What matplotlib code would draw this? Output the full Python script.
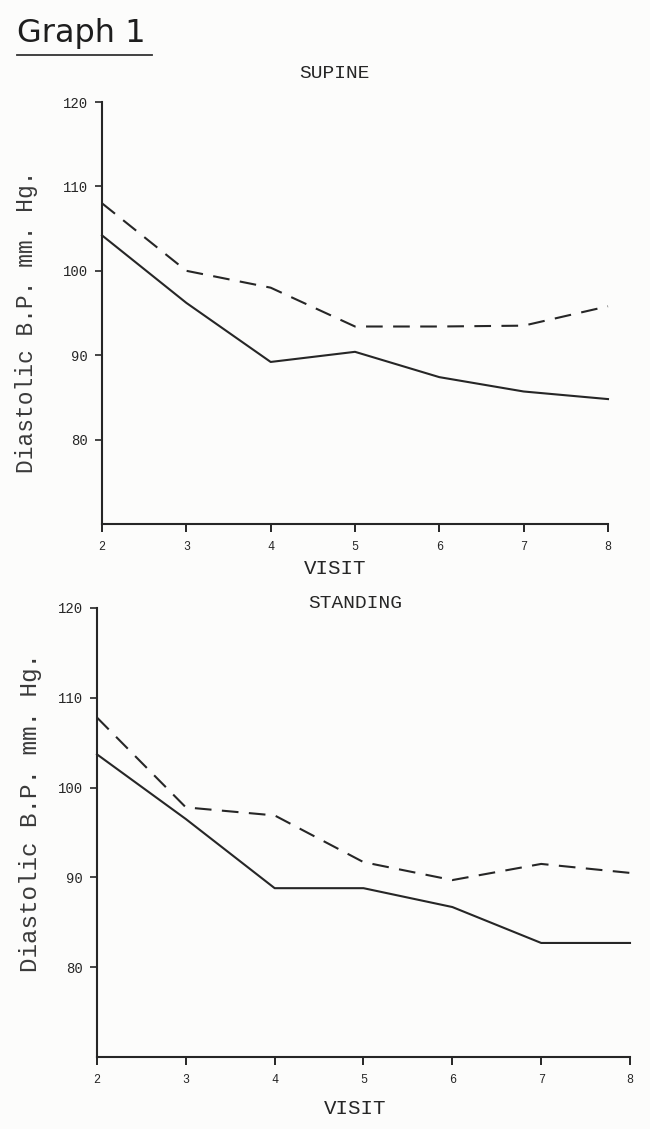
import matplotlib
matplotlib.use("Agg")
import matplotlib.pyplot as plt
from matplotlib.lines import Line2D

visits = [2, 3, 4, 5, 6, 7, 8]
supine_dashed = [108.0, 100.0, 98.0, 93.4, 93.4, 93.5, 95.8]
supine_solid = [104.2, 96.2, 89.2, 90.4, 87.4, 85.7, 84.8]
standing_dashed = [107.8, 97.8, 96.9, 91.7, 89.7, 91.5, 90.5]
standing_solid = [103.7, 96.5, 88.8, 88.8, 86.7, 82.7, 82.7]
y_ticks = [80, 90, 100, 110, 120]
y_labels = ["80", "90", "100", "110", "120"]

INK = "#262626"
MONO = ["Liberation Mono", "DejaVu Sans Mono"]
W, H = 650, 1129

fig = plt.figure(figsize=(W / 100, H / 100), dpi=100, facecolor="#fcfcfb")

def px_ax(left, top, right, bottom):
    return fig.add_axes([left / W, 1 - bottom / H, (right - left) / W, (bottom - top) / H])

def style(ax):
    ax.set_facecolor("none")
    for s in ("top", "right"):
        ax.spines[s].set_visible(False)
    for s in ("left", "bottom"):
        ax.spines[s].set_color(INK)
        ax.spines[s].set_linewidth(1.5)
    ax.set_xlim(2, 8)
    ax.set_ylim(70, 120)
    ax.set_xticks(visits)
    ax.set_xticklabels([str(v) for v in visits], fontfamily=MONO, fontsize=8.5, color=INK)
    ax.set_yticks(y_ticks)
    ax.set_yticklabels(y_labels, fontfamily=MONO, fontsize=10, color=INK)
    ax.tick_params(axis="y", direction="out", length=5, width=1.2, pad=5, colors=INK)
    ax.tick_params(axis="x", direction="out", length=6, width=1.4, pad=6, colors=INK)

# Top panel: SUPINE
ax1 = px_ax(102, 102, 608, 524)
style(ax1)
ax1.plot(visits, supine_dashed, color=INK, lw=1.5, linestyle=(0, (8, 5)), clip_on=False)
ax1.plot(visits, supine_solid, color=INK, lw=1.5, clip_on=False)

# Bottom panel: STANDING
ax2 = px_ax(97, 608, 630, 1057)
style(ax2)
ax2.plot(visits, standing_dashed, color=INK, lw=1.5, linestyle=(0, (8, 5)), clip_on=False)
ax2.plot(visits, standing_solid, color=INK, lw=1.5, clip_on=False)

# Texts
fig.text(17 / W, 1 - 42 / H, "Graph 1", fontfamily="DejaVu Sans", fontsize=23,
         color="#1e1e1e", ha="left", va="baseline")
fig.add_artist(Line2D([17 / W, 152 / W], [1 - 55 / H, 1 - 55 / H], color="#333333", lw=1.3))

fig.text(335 / W, 1 - 73 / H, "SUPINE", fontfamily=MONO, fontsize=14, color=INK,
         ha="center", va="center")
fig.text(335 / W, 1 - 569 / H, "VISIT", fontfamily=MONO, fontsize=15, color=INK,
         ha="center", va="center")
fig.text(355 / W, 1 - 604 / H, "STANDING", fontfamily=MONO, fontsize=14, color=INK,
         ha="center", va="center")
fig.text(355 / W, 1 - 1108 / H, "VISIT", fontfamily=MONO, fontsize=15, color=INK,
         ha="center", va="center")

fig.text(27 / W, 1 - 322 / H, "Diastolic B.P. mm. Hg.", fontfamily=MONO, fontsize=16.5,
         color="#3a3a3a", rotation=90, ha="center", va="center")
fig.text(31 / W, 1 - 813 / H, "Diastolic B.P. mm. Hg.", fontfamily=MONO, fontsize=17.5,
         color="#3a3a3a", rotation=90, ha="center", va="center")

fig.savefig("out.png", dpi=100, facecolor=fig.get_facecolor())
